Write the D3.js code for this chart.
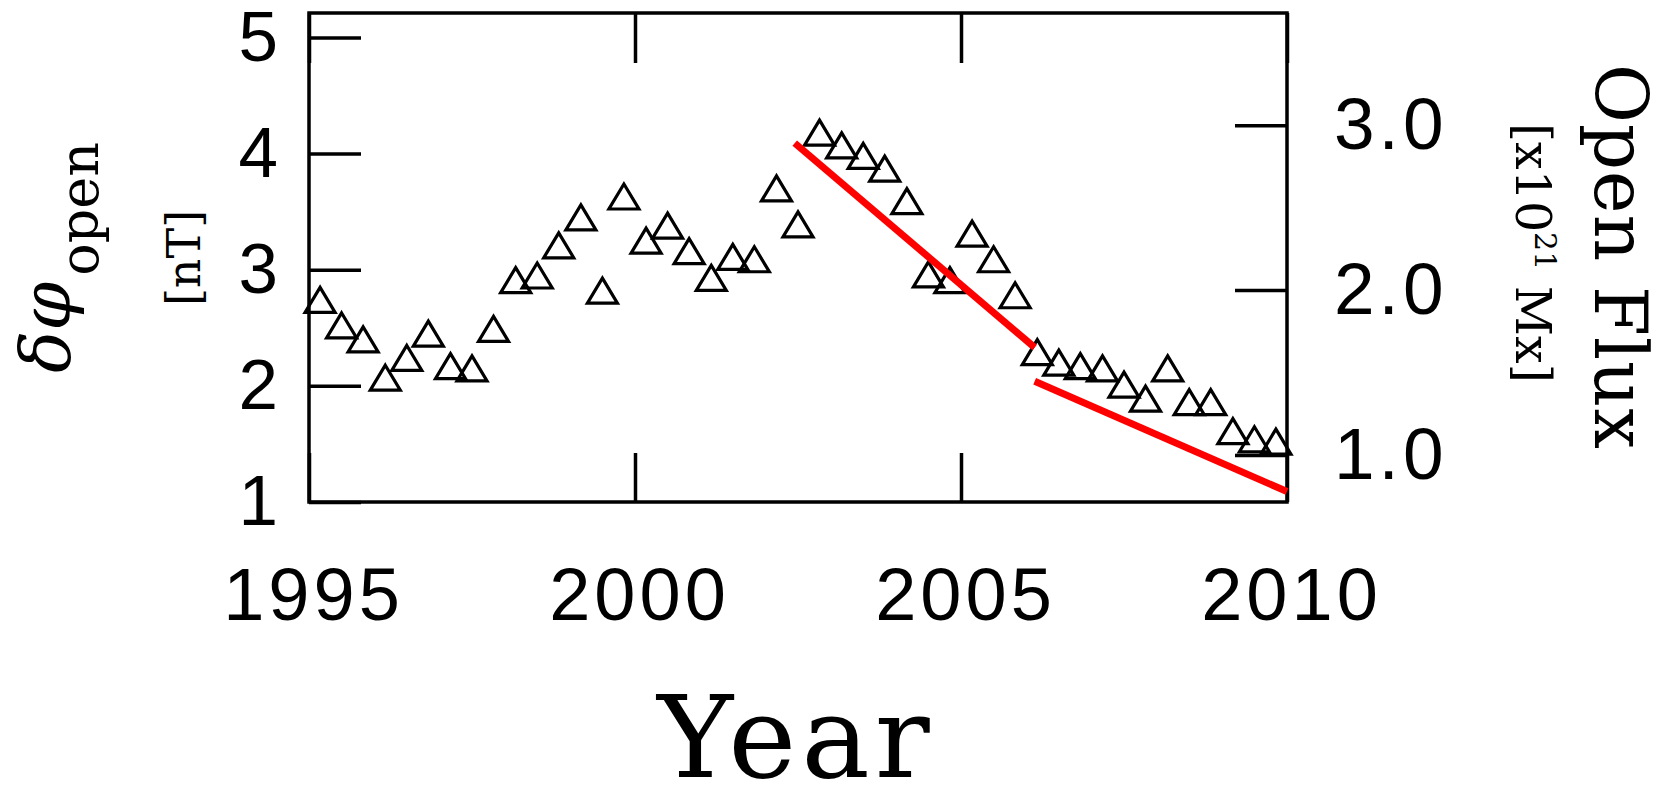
<!DOCTYPE html>
<html>
<head>
<meta charset="utf-8">
<script src="https://cdn.jsdelivr.net/npm/d3@7"></script>
<style>
  body { margin: 0; background: #fff; }
  svg { display: block; }
</style>
</head>
<body>
<svg id="chart"></svg>
<script>
// 4-month averages of delta-phi_open [nT]
var years = [1995.17, 1995.50, 1995.83, 1996.17, 1996.50, 1996.83, 1997.17, 1997.50, 1997.83,
             1998.17, 1998.50, 1998.83, 1999.17, 1999.50, 1999.83, 2000.17, 2000.50, 2000.83,
             2001.17, 2001.50, 2001.83, 2002.17, 2002.50, 2002.83, 2003.17, 2003.50, 2003.83,
             2004.17, 2004.50, 2004.83, 2005.17, 2005.50, 2005.83, 2006.17, 2006.50, 2006.83,
             2007.17, 2007.50, 2007.83, 2008.17, 2008.50, 2008.83, 2009.17, 2009.50, 2009.83];
var openPhi = [2.74, 2.52, 2.40, 2.07, 2.24, 2.45, 2.17, 2.15, 2.49,
               2.91, 2.95, 3.21, 3.45, 2.82, 3.63, 3.25, 3.38, 3.16,
               2.93, 3.11, 3.09, 3.70, 3.39, 4.18, 4.07, 3.98, 3.87,
               3.59, 2.96, 2.91, 3.31, 3.09, 2.78, 2.29, 2.20, 2.17,
               2.15, 2.01, 1.89, 2.15, 1.86, 1.86, 1.61, 1.54, 1.52];

// red fit lines
var fitYearsA = [2002.45, 2006.13], fitValuesA = [4.09, 2.33];
var fitYearsB = [2006.13, 2010.00], fitValuesB = [2.04, 1.09];

var xTicks = [1995, 2000, 2005, 2010];
var leftTicks = [1, 2, 3, 4, 5];
var rightTicks = [1.0, 2.0, 3.0];
var leftDomain = [1, 5.21];
var rightDomain = [0.715, 3.68];

var W = 1665, H = 786;
var box = {left: 309, top: 13, right: 1287, bottom: 502};

var svg = d3.select("#chart")
    .attr("width", W)
    .attr("height", H);

svg.append("rect")
    .attr("width", W)
    .attr("height", H)
    .attr("fill", "#fff");

var x = d3.scaleLinear()
    .domain([1995, 2010])
    .range([box.left, box.right]);

var y = d3.scaleLinear()
    .domain(leftDomain)
    .range([box.bottom, box.top]);

var yR = d3.scaleLinear()
    .domain(rightDomain)
    .range([box.bottom, box.top]);

function styleAxis(g) {
    g.select(".domain").remove();
    g.selectAll(".tick line")
        .attr("stroke", "#000")
        .attr("stroke-width", 3.5);
    g.selectAll(".tick text")
        .attr("fill", "#000")
        .attr("font-family", "'Liberation Sans', Arial, sans-serif")
        .attr("font-size", 71);
}

svg.append("g")
    .attr("transform", "translate(" + box.left + ",0)")
    .call(d3.axisLeft(y).tickValues(leftTicks).tickSizeInner(-52).tickSizeOuter(0)
        .tickPadding(31).tickFormat(d3.format("d")))
    .call(styleAxis);

svg.append("g")
    .attr("transform", "translate(" + box.right + ",0)")
    .call(d3.axisRight(yR).tickValues(rightTicks).tickSizeInner(-52).tickSizeOuter(0)
        .tickPadding(47).tickFormat(d3.format(".1f")))
    .call(styleAxis)
    .selectAll(".tick text")
    .attr("font-size", 73)
    .attr("letter-spacing", 4);

svg.append("g")
    .attr("transform", "translate(0," + box.bottom + ")")
    .call(d3.axisBottom(x).tickValues(xTicks).tickSizeInner(-49).tickSizeOuter(0)
        .tickPadding(65).tickFormat(d3.format("d")))
    .call(styleAxis)
    .selectAll(".tick text")
    .attr("font-size", 74)
    .attr("letter-spacing", 4)
    .attr("dx", 4);

svg.append("g")
    .attr("transform", "translate(0," + box.top + ")")
    .call(d3.axisTop(x).tickValues(xTicks).tickSizeInner(-50).tickSizeOuter(0)
        .tickFormat(""))
    .call(styleAxis);

// frame
svg.append("rect")
    .attr("x", box.left)
    .attr("y", box.top)
    .attr("width", box.right - box.left)
    .attr("height", box.bottom - box.top)
    .attr("fill", "none")
    .attr("stroke", "#000")
    .attr("stroke-width", 3.5);

// triangles
var tri = "M0,-12.5L15,12.5L-15,12.5Z";
svg.selectAll(".pt")
    .data(years)
    .enter()
    .append("path")
    .attr("class", "pt")
    .attr("d", tri)
    .attr("transform", function(d, i) {
        return "translate(" + x(d) + "," + y(openPhi[i]) + ")";
    })
    .attr("fill", "none")
    .attr("stroke", "#000")
    .attr("stroke-width", 3.2);

// fit lines
var line = d3.line()
    .x(function(d) { return x(d[0]); })
    .y(function(d) { return y(d[1]); });

[[fitYearsA, fitValuesA], [fitYearsB, fitValuesB]].forEach(function(f) {
    svg.append("path")
        .attr("d", line(d3.zip(f[0], f[1])))
        .attr("fill", "none")
        .attr("stroke", "#ff0000")
        .attr("stroke-width", 7);
});

// axis titles
var serif = "'DejaVu Serif', 'Liberation Serif', serif";

svg.append("text")
    .attr("x", 796)
    .attr("y", 777)
    .attr("text-anchor", "middle")
    .attr("font-family", serif)
    .attr("font-size", 115)
    .attr("letter-spacing", 5)
    .text("Year");

var lt = svg.append("text")
    .attr("transform", "translate(70,373) rotate(-90)")
    .attr("font-family", serif)
    .attr("font-style", "italic")
    .attr("font-size", 70);
lt.append("tspan").text("δφ");
lt.append("tspan")
    .attr("font-style", "normal")
    .attr("font-size", 54)
    .attr("dx", 6)
    .attr("dy", 28)
    .text("open");

svg.append("text")
    .attr("transform", "translate(200,258) rotate(-90)")
    .attr("text-anchor", "middle")
    .attr("font-family", serif)
    .attr("font-size", 46)
    .text("[nT]");

svg.append("text")
    .attr("transform", "translate(1595,64) rotate(90)")
    .attr("font-family", serif)
    .attr("font-size", 72)
    .attr("letter-spacing", 1)
    .text("Open Flux");

var rt = svg.append("text")
    .attr("transform", "translate(1516,123) rotate(90)")
    .attr("font-family", serif)
    .attr("font-size", 49);
rt.append("tspan").text("[x10");
rt.append("tspan")
    .attr("font-size", 30)
    .attr("dy", -19)
    .text("21");
rt.append("tspan")
    .attr("dy", 19)
    .text(" Mx]");
</script>
</body>
</html>
